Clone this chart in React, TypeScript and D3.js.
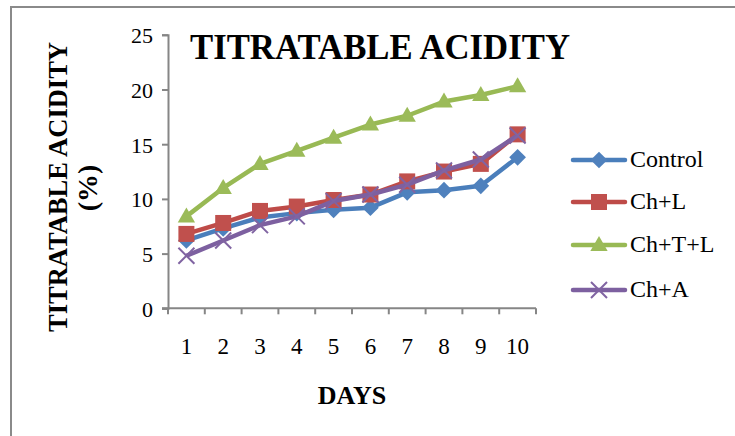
import * as d3 from "d3";
import React, { useEffect, useRef } from "react";

// days on the x axis
const days = ["1", "2", "3", "4", "5", "6", "7", "8", "9", "10"];
const yTicks = [0, 5, 10, 15, 20, 25];

// titratable acidity (%)
const control = [6.2, 7.3, 8.3, 8.7, 9.0, 9.2, 10.6, 10.8, 11.2, 13.8];
const chL = [6.8, 7.8, 8.9, 9.3, 9.9, 10.4, 11.6, 12.5, 13.2, 15.9];
const chTL = [8.4, 11.0, 13.2, 14.4, 15.6, 16.8, 17.6, 18.9, 19.5, 20.3];
const chA = [4.8, 6.2, 7.6, 8.4, 9.8, 10.4, 11.3, 12.6, 13.6, 15.8];

const seriesNames = ["Control", "Ch+L", "Ch+T+L", "Ch+A"];
const seriesValues = [control, chL, chTL, chA];
const lineColors = ["#4a7ebb", "#be4b48", "#98b954", "#7d60a0"];
const markerColors = ["#4f81bd", "#c0504d", "#9bbb59", "#8064a2"];
const markerTypes = ["diamond", "square", "triangle", "x"];

const FONT = "'Liberation Serif', 'Times New Roman', serif";

const App: React.FC = () => {
  const svgRef = useRef<SVGSVGElement>(null);
  const isRender = useRef(false);

  useEffect(() => {
    if (isRender.current || !svgRef.current) return;
    isRender.current = true;

    const svg = d3.select(svgRef.current);
    svg.selectAll("*").remove();

    // outer frame (runs off the right and bottom)
    svg.append("rect")
      .attr("x", 11).attr("y", 7)
      .attr("width", 800).attr("height", 500)
      .attr("fill", "none")
      .attr("stroke", "#8a8a8a")
      .attr("stroke-width", 2);

    const margin = { left: 168, top: 34.8, right: 536, bottom: 308.3 };

    const x = d3.scaleBand().domain(days).range([margin.left, margin.right]);
    const y = d3.scaleLinear().domain([0, 25]).range([margin.bottom, margin.top]);

    // y axis
    const yAxis = svg.append("g")
      .attr("transform", `translate(${margin.left},0)`)
      .call(d3.axisLeft(y).tickValues(yTicks).tickSize(6).tickPadding(9));
    yAxis.select(".domain").attr("stroke", "#868686").attr("stroke-width", 2);
    yAxis.selectAll(".tick line").attr("stroke", "#868686").attr("stroke-width", 2);
    yAxis.selectAll(".tick text")
      .attr("fill", "#000")
      .style("font-family", FONT)
      .style("font-size", "22px")
      .attr("dy", "0.36em");

    // x axis: ticks sit between categories
    const xAxisG = svg.append("g").attr("transform", `translate(0,${margin.bottom})`);
    xAxisG.append("line")
      .attr("x1", margin.left - 6).attr("x2", margin.right)
      .attr("stroke", "#868686").attr("stroke-width", 2);
    const boundaries = days.map((d) => x(d) as number).concat([margin.right]);
    xAxisG.selectAll("line.tk")
      .data(boundaries)
      .enter()
      .append("line")
      .attr("class", "tk")
      .attr("x1", (d) => d).attr("x2", (d) => d)
      .attr("y1", 0).attr("y2", 6)
      .attr("stroke", "#868686").attr("stroke-width", 2);
    xAxisG.selectAll("text")
      .data(days)
      .enter()
      .append("text")
      .attr("x", (d) => (x(d) as number) + x.bandwidth() / 2)
      .attr("y", 46)
      .attr("text-anchor", "middle")
      .style("font-family", FONT)
      .style("font-size", "23px")
      .text((d) => d);

    // lines
    const line = d3.line<number>()
      .x((_, i) => (x(days[i]) as number) + x.bandwidth() / 2)
      .y((d) => y(d));

    const drawMarker = (g: any, type: string, cx: number, cy: number, color: string) => {
      if (type === "diamond") {
        g.append("path")
          .attr("d", d3.symbol().type(d3.symbolSquare).size(140)())
          .attr("transform", `translate(${cx},${cy}) rotate(45)`)
          .attr("fill", color);
      } else if (type === "square") {
        g.append("path")
          .attr("d", d3.symbol().type(d3.symbolSquare).size(256)())
          .attr("transform", `translate(${cx},${cy})`)
          .attr("fill", color);
      } else if (type === "triangle") {
        g.append("path")
          .attr("d", d3.symbol().type(d3.symbolTriangle).size(130)())
          .attr("transform", `translate(${cx},${cy + 1})`)
          .attr("fill", color);
      } else {
        const r = 8;
        g.append("path")
          .attr("d", `M${cx - r},${cy - r}L${cx + r},${cy + r}M${cx - r},${cy + r}L${cx + r},${cy - r}`)
          .attr("stroke", color)
          .attr("stroke-width", 2)
          .attr("fill", "none");
      }
    };

    seriesValues.forEach((vals, si) => {
      const g = svg.append("g");
      g.append("path")
        .datum(vals)
        .attr("d", line)
        .attr("fill", "none")
        .attr("stroke", lineColors[si])
        .attr("stroke-width", 4.5)
        .attr("stroke-linejoin", "round");
      vals.forEach((v, i) => {
        drawMarker(g, markerTypes[si], (x(days[i]) as number) + x.bandwidth() / 2, y(v), markerColors[si]);
      });
    });

    // title
    svg.append("text")
      .attr("x", 190).attr("y", 59)
      .attr("textLength", 380)
      .attr("lengthAdjust", "spacingAndGlyphs")
      .style("font-family", FONT)
      .style("font-weight", "bold")
      .style("font-size", "35px")
      .text("TITRATABLE ACIDITY");

    // y axis title
    svg.append("text")
      .attr("transform", "translate(67,187) rotate(-90)")
      .attr("text-anchor", "middle")
      .attr("textLength", 290)
      .attr("lengthAdjust", "spacingAndGlyphs")
      .style("font-family", FONT)
      .style("font-weight", "bold")
      .style("font-size", "28px")
      .text("TITRATABLE ACIDITY");
    svg.append("text")
      .attr("transform", "translate(97,188) rotate(-90)")
      .attr("text-anchor", "middle")
      .style("font-family", FONT)
      .style("font-weight", "bold")
      .style("font-size", "28px")
      .text("(%)");

    // x axis title
    svg.append("text")
      .attr("x", 352).attr("y", 404)
      .attr("text-anchor", "middle")
      .style("font-family", FONT)
      .style("font-weight", "bold")
      .style("font-size", "26px")
      .text("DAYS");

    // legend
    const legendY = [160, 202, 245, 290];
    seriesNames.forEach((name, si) => {
      const g = svg.append("g");
      const ly = legendY[si];
      g.append("line")
        .attr("x1", 573).attr("x2", 625)
        .attr("y1", ly).attr("y2", ly)
        .attr("stroke", lineColors[si])
        .attr("stroke-width", 4.5)
        .attr("stroke-linecap", "round");
      drawMarker(g, markerTypes[si], 599, ly, markerColors[si]);
      g.append("text")
        .attr("x", 630).attr("y", ly + 7)
        .style("font-family", FONT)
        .style("font-size", "24px")
        .text(name);
    });
  }, []);

  return (
    <svg
      ref={svgRef}
      width={735}
      height={436}
      style={{ position: "absolute", left: 0, top: 0, background: "#fff" }}
    />
  );
};

export default App;
